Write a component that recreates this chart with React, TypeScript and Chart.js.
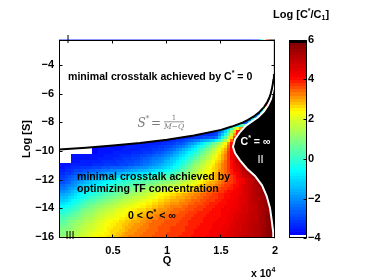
import React, { useEffect, useRef } from 'react';
import { Chart, registerables } from 'chart.js';

Chart.register(...registerables);

// ---------- data ----------
// Q in units of 10^4; Log[S] natural log
const qCenters = [0.05, 0.15, 0.25, 0.35, 0.45, 0.55, 0.65, 0.75, 0.85, 0.95, 1.05, 1.15, 1.25, 1.35, 1.45, 1.55, 1.65, 1.75, 1.85, 1.95];
const logSRows = [-16, -15.5, -15, -14.5, -14, -13.5, -13, -12.5, -12, -11.5, -11, -10.5, -10, -9.5, -9, -8.5, -8, -7.5];

// Log[C*/C1] per row (null = white, C* = 0)
const rowS16 = [1.1, 1.5, 2.0, 2.35, 2.6, 2.9, 3.2, 3.35, 3.5, 3.6, 3.75, 3.85, 4.0, 4.1, 4.25, 4.45, 4.7, 4.95, 5.2, 5.75];
const rowS15h = [0.85, 1.3, 1.75, 2.1, 2.45, 2.7, 3.0, 3.25, 3.4, 3.55, 3.7, 3.8, 3.95, 4.05, 4.2, 4.4, 4.65, 4.9, 5.2, 5.75];
const rowS15 = [0.6, 1.1, 1.5, 1.9, 2.3, 2.55, 2.85, 3.1, 3.35, 3.5, 3.6, 3.75, 3.9, 4.0, 4.15, 4.3, 4.6, 4.85, 5.15, 5.75];
const rowS14h = [0.05, 0.6, 1.1, 1.55, 1.95, 2.25, 2.55, 2.8, 3.1, 3.3, 3.45, 3.6, 3.8, 3.95, 4.05, 4.25, 4.5, 4.8, 5.1, 5.7];
const rowS14 = [-0.45, 0.1, 0.7, 1.2, 1.55, 1.95, 2.3, 2.55, 2.8, 3.05, 3.3, 3.45, 3.65, 3.85, 4.0, 4.2, 4.4, 4.75, 5.1, 5.6];
const rowS13h = [-1.15, -0.5, 0.1, 0.55, 0.95, 1.35, 1.7, 2.05, 2.35, 2.7, 2.95, 3.15, 3.4, 3.65, 3.85, 4.1, 4.35, 4.75, 5.2, 5.8];
const rowS13 = [-1.85, -1.1, -0.5, -0.1, 0.3, 0.7, 1.1, 1.5, 1.9, 2.3, 2.6, 2.85, 3.15, 3.45, 3.7, 4.0, 4.25, 4.75, 5.25, 5.8];
const rowS12h = [-2.45, -1.75, -1.1, -0.7, -0.3, 0.15, 0.45, 0.8, 1.1, 1.45, 1.75, 2.1, 2.5, 2.95, 3.3, 3.75, 4.1, 4.75, 5.4, 6];
const rowS12 = [-3.0, -2.35, -1.75, -1.3, -0.85, -0.45, -0.2, 0.05, 0.35, 0.6, 0.85, 1.3, 1.9, 2.45, 2.95, 3.45, 4.0, 4.7, 5.5, 6];
const rowS11h = [-3.35, -2.9, -2.6, -2.3, -2.0, -1.75, -1.5, -1.25, -0.9, -0.5, -0.05, 0.6, 1.45, 2.15, 2.85, 3.5, 4.3, 5.25, 6, 6];
const rowS11 = [-3.65, -3.5, -3.4, -3.3, -3.15, -3.05, -2.85, -2.55, -2.15, -1.65, -0.95, -0.05, 1.0, 1.85, 2.7, 3.55, 4.6, 5.8, 6, 6];
const rowS10h = [null, -3.6, -3.6, -3.55, -3.45, -3.3, -3.15, -2.9, -2.55, -2.1, -1.45, -0.7, 0.3, 1.3, 2.3, 3.4, 5.0, 6, 6, 6];
const rowS10 = [null, null, null, -3.7, -3.6, -3.55, -3.45, -3.35, -3.2, -2.9, -2.3, -1.4, -0.5, 0.7, 1.9, 3.2, 5.5, 6, 6, 6];
const rowS9h = [null, null, null, -3.6, -3.6, -3.6, -3.55, -3.5, -3.45, -3.35, -3.1, -2.6, -1.6, -0.4, 1.0, 2.6, 6, 6, 6, 6];
const rowS9 = [-3.6, -3.6, -3.6, -3.6, -3.6, -3.6, -3.6, -3.6, -3.6, -3.6, -3.6, -3.55, -3.4, -3.2, -3.0, 0.5, 4.5, 6, 6, 6];
const rowS8h = [-3.6, -3.6, -3.6, -3.6, -3.6, -3.6, -3.6, -3.6, -3.6, -3.6, -3.6, -3.6, -3.6, -3.6, -3.55, -1.5, 3.5, 6, 6, 6];
const rowS8 = [-3.6, -3.6, -3.6, -3.6, -3.6, -3.6, -3.6, -3.6, -3.6, -3.6, -3.6, -3.6, -3.6, -3.6, -3.6, -3.6, -3.5, -2.5, 6, 6];
const rowS7h = [-3.6, -3.6, -3.6, -3.6, -3.6, -3.6, -3.6, -3.6, -3.6, -3.6, -3.6, -3.6, -3.6, -3.6, -3.6, -3.6, -3.6, -3.6, -3.2, 6];
const cRows = [rowS16, rowS15h, rowS15, rowS14h, rowS14, rowS13h, rowS13, rowS12h, rowS12, rowS11h, rowS11, rowS10h, rowS10, rowS9h, rowS9, rowS8h, rowS8, rowS7h];

// S* = 1/(M-Q) boundary (black line)
const sStarQ = [0, 0.25, 0.5, 0.75, 1.0, 1.25, 1.5, 1.6, 1.7, 1.75, 1.8, 1.85, 1.9, 1.93, 1.95, 1.96, 1.97, 1.98, 1.985, 1.99];
const sStarL = [-9.9, -9.77, -9.62, -9.44, -9.21, -8.92, -8.52, -8.29, -8.01, -7.82, -7.6, -7.31, -6.91, -6.55, -6.21, -5.99, -5.7, -5.3, -5.01, -4.61];

// region II boundary (white line), bottom to top
const bQ = [1.99, 1.984, 1.969, 1.954, 1.923, 1.88, 1.815, 1.741, 1.676, 1.63, 1.611, 1.63, 1.676, 1.731, 1.787, 1.843, 1.898, 1.935, 1.963, 1.98, 1.99];
const bL = [-16.12, -15.71, -14.83, -14.0, -13.15, -12.4, -11.75, -11.24, -10.66, -10.15, -9.7, -9.18, -8.67, -8.22, -7.93, -7.64, -7.22, -6.8, -6.35, -5.7, -5.0];
const edgeQ = [2, 2];
const edgeL = [-4.75, -16.12];

const xTicks = [0.5, 1, 1.5, 2];
const yTicks = [-16, -14, -12, -10, -8, -6, -4];
const cTicks = [-4, -2, 0, 2, 4, 6];

// ---------- styling ----------
const FAMILY = '"Liberation Sans", Arial, Helvetica, sans-serif';
const stops: number[][] = [
  [-3.84, 0, 0, 255],
  [-0.6, 0, 255, 255],
  [0.9, 128, 255, 128],
  [2.4, 255, 255, 0],
  [4.1, 255, 0, 0],
  [5.84, 128, 0, 0],
];

function colorFor(v: number): string {
  const lo = -4, hi = 6, n = 64;
  let k = Math.floor(((v - lo) / (hi - lo)) * n);
  k = Math.max(0, Math.min(n - 1, k));
  if (k === 0) return '#ffffff';
  if (k === n - 1) return '#000000';
  const c = lo + ((k + 0.5) * (hi - lo)) / n;
  for (let i = 0; i < stops.length - 1; i++) {
    const a = stops[i], b = stops[i + 1];
    if (c <= b[0] || i === stops.length - 2) {
      let t = (c - a[0]) / (b[0] - a[0]);
      t = Math.max(0, Math.min(1, t));
      const r = Math.round(a[1] + (b[1] - a[1]) * t);
      const g = Math.round(a[2] + (b[2] - a[2]) * t);
      const bl = Math.round(a[3] + (b[3] - a[3]) * t);
      return `rgb(${r},${g},${bl})`;
    }
  }
  return '#000';
}

type Part = { t: string; font: string; dy?: number };
function rich(ctx: CanvasRenderingContext2D, parts: Part[], x: number, y: number) {
  let cx = x;
  for (const p of parts) {
    ctx.font = p.font;
    ctx.fillText(p.t, cx, y + (p.dy || 0));
    cx += ctx.measureText(p.t).width;
  }
}

const fmt = (v: number) => (v < 0 ? '\u2212' + Math.abs(v) : String(v));

// value of the measured field at (q, L): shaded between the read cell centres
function fieldAt(q: number, L: number): number | null {
  const nQ = qCenters.length, nL = logSRows.length;
  let fq = (q - qCenters[0]) / (qCenters[1] - qCenters[0]);
  let fl = (L - logSRows[0]) / (logSRows[1] - logSRows[0]);
  fq = Math.max(0, Math.min(nQ - 1, fq));
  fl = Math.max(0, Math.min(nL - 1, fl));
  const q0 = Math.floor(fq), l0 = Math.floor(fl);
  const q1 = Math.min(nQ - 1, q0 + 1), l1 = Math.min(nL - 1, l0 + 1);
  const tq = fq - q0, tl = fl - l0;
  const v00 = cRows[l0][q0], v01 = cRows[l0][q1], v10 = cRows[l1][q0], v11 = cRows[l1][q1];
  if (v00 == null || v01 == null || v10 == null || v11 == null) {
    return cRows[tl < 0.5 ? l0 : l1][tq < 0.5 ? q0 : q1];
  }
  const a = v00 + (v01 - v00) * tq;
  const b = v10 + (v11 - v10) * tq;
  return a + (b - a) * tl;
}

const heatPlugin = {
  id: 'heat',
  beforeDatasetsDraw(chart: any) {
    const { ctx, chartArea: a } = chart;
    const x = chart.scales.x, y = chart.scales.y;
    ctx.save();
    ctx.beginPath();
    ctx.rect(a.left, a.top, a.right - a.left, a.bottom - a.top);
    ctx.clip();
    const sub = 3;
    for (let py = Math.round(a.bottom) - sub; py > a.top - sub; py -= sub) {
      const L = y.getValueForPixel(py + sub / 2);
      for (let px = Math.round(a.left); px < a.right; px += sub) {
        const q = x.getValueForPixel(px + sub / 2);
        const v = fieldAt(q, L);
        if (v == null) continue;
        ctx.fillStyle = colorFor(v);
        ctx.fillRect(px, py, sub, sub);
      }
    }
    // region II (C* = infinity)
    ctx.beginPath();
    bQ.forEach((q, i) => {
      const px = x.getPixelForValue(q), py = y.getPixelForValue(bL[i]);
      if (i === 0) ctx.moveTo(px, py); else ctx.lineTo(px, py);
    });
    edgeQ.forEach((q, i) => ctx.lineTo(x.getPixelForValue(q), y.getPixelForValue(edgeL[i])));
    ctx.closePath();
    ctx.fillStyle = '#000';
    ctx.fill();
    ctx.restore();
  },
  afterDatasetsDraw(chart: any) {
    const { ctx, chartArea: a } = chart;
    const x = chart.scales.x, y = chart.scales.y;
    ctx.save();
    ctx.strokeStyle = '#000';
    ctx.lineWidth = 1;
    const L = Math.round(a.left) + 0.5, R = Math.round(a.right) - 0.5;
    const T = Math.round(a.top) + 0.5, B = Math.round(a.bottom) - 0.5;
    ctx.strokeRect(L, T, R - L, B - T);
    ctx.beginPath();
    xTicks.forEach((v) => {
      const px = Math.round(x.getPixelForValue(v)) - 0.5;
      ctx.moveTo(px, B); ctx.lineTo(px, B - 3);
      ctx.moveTo(px, T); ctx.lineTo(px, T + 3);
    });
    yTicks.forEach((v) => {
      const py = Math.round(y.getPixelForValue(v)) + 0.5;
      ctx.moveTo(L, py); ctx.lineTo(L + 3, py);
      ctx.moveTo(R, py); ctx.lineTo(R - 3, py);
    });
    ctx.stroke();
    ctx.restore();
  },
  afterDraw(chart: any) {
    const { ctx, chartArea: a } = chart;
    const yc = chart.scales.yc;
    ctx.save();
    // colorbar
    const cbL = Math.round(a.right) + 14, cbW = 18;
    const n = 64;
    for (let k = 0; k < n; k++) {
      const v0 = -4 + (k * 10) / n, v1 = -4 + ((k + 1) * 10) / n;
      const py0 = Math.round(yc.getPixelForValue(v1));
      const py1 = Math.round(yc.getPixelForValue(v0));
      ctx.fillStyle = colorFor((v0 + v1) / 2);
      ctx.fillRect(cbL, py0, cbW, py1 - py0);
    }
    ctx.strokeStyle = '#000';
    ctx.lineWidth = 1;
    const cT = Math.round(a.top) + 0.5, cB = Math.round(a.bottom) - 0.5;
    ctx.strokeRect(cbL + 0.5, cT, cbW - 1, cB - cT);
    ctx.beginPath();
    cTicks.forEach((v) => {
      const py = Math.round(yc.getPixelForValue(v)) + 0.5;
      ctx.moveTo(cbL + cbW - 0.5, py); ctx.lineTo(cbL + cbW - 3.5, py);
    });
    ctx.stroke();

    ctx.textBaseline = 'middle';
    ctx.textAlign = 'left';
    const B = 'bold 10.6px ' + FAMILY;
    const Bs = 'bold 7px ' + FAMILY;
    const Rg = '11px ' + FAMILY;
    ctx.fillStyle = '#000';
    rich(ctx, [{ t: 'Log [C', font: 'bold 11px ' + FAMILY }, { t: '*', font: Bs, dy: -4 }, { t: '/C', font: 'bold 11px ' + FAMILY }, { t: '1', font: Bs, dy: 3 }, { t: ']', font: 'bold 11px ' + FAMILY }], 273, 15);
    rich(ctx, [{ t: 'x 10', font: 'bold 10.5px ' + FAMILY }, { t: '4', font: Bs, dy: -4 }], 251, 274);

    rich(ctx, [{ t: 'minimal crosstalk achieved by C', font: B }, { t: '*', font: Bs, dy: -4 }, { t: ' = 0', font: B }], 68, 77.5);
    rich(ctx, [{ t: 'minimal crosstalk achieved by', font: B }], 77, 177);
    rich(ctx, [{ t: 'optimizing TF concentration', font: B }], 77, 189.5);
    rich(ctx, [{ t: '0 < C', font: B }, { t: '*', font: Bs, dy: -4 }, { t: ' < \u221E', font: B }], 128, 216.5);
    rich(ctx, [{ t: 'I', font: Rg }], 66.5, 40);
    rich(ctx, [{ t: 'III', font: Rg }], 65.5, 235.5);
    ctx.fillStyle = '#fff';
    rich(ctx, [{ t: 'C', font: B }, { t: '*', font: Bs, dy: -4 }, { t: ' = \u221E', font: B }], 240.5, 142);
    rich(ctx, [{ t: 'II', font: Rg }], 257.5, 159.5);

    // S* = 1/(M-Q)
    ctx.fillStyle = '#7a7a7a';
    ctx.strokeStyle = '#7a7a7a';
    ctx.textBaseline = 'alphabetic';
    ctx.font = 'italic 12px "DejaVu Serif", "Liberation Serif", serif';
    ctx.fillText('S', 137.5, 127);
    ctx.font = '8px "DejaVu Serif", "Liberation Serif", serif';
    ctx.fillText('*', 145.5, 121);
    ctx.font = '12px "DejaVu Serif", "Liberation Serif", serif';
    ctx.fillText('=', 151, 127);
    ctx.textAlign = 'center';
    ctx.font = '7px "DejaVu Serif", "Liberation Serif", serif';
    ctx.fillText('1', 174, 119.5);
    ctx.font = 'italic 7.5px "DejaVu Serif", "Liberation Serif", serif';
    ctx.fillText('M\u2212Q', 174, 129);
    ctx.lineWidth = 0.8;
    ctx.beginPath();
    ctx.moveTo(164, 121.8); ctx.lineTo(184, 121.8);
    ctx.stroke();
    ctx.restore();
  },
};

export default function App() {
  const ref = useRef<HTMLCanvasElement | null>(null);
  useEffect(() => {
    if (!ref.current) return;
    const tickFont = { family: FAMILY, size: 11, weight: 'bold' as const };
    const chart = new Chart(ref.current, {
      type: 'line',
      data: {
        datasets: [
          {
            data: sStarQ.map((q, i) => ({ x: q, y: sStarL[i] })),
            borderColor: '#000',
            borderWidth: 2,
            pointRadius: 0,
            fill: 'end',
            backgroundColor: '#fff',
            tension: 0,
          },
          {
            data: bQ.map((q, i) => ({ x: q, y: bL[i] })),
            borderColor: '#fff',
            borderWidth: 2,
            pointRadius: 0,
            fill: false,
            tension: 0,
          },
        ],
      },
      options: {
        animation: false,
        responsive: false,
        devicePixelRatio: 1,
        events: [],
        layout: { padding: { top: 27, left: 0, right: 0, bottom: 0 } },
        plugins: { legend: { display: false }, tooltip: { enabled: false } },
        scales: {
          x: {
            type: 'linear',
            min: 0,
            max: 2,
            afterBuildTicks: (s: any) => { s.ticks = xTicks.map((v) => ({ value: v })); },
            afterFit: (s: any) => { s.height = 34; },
            grid: { display: false, drawTicks: false },
            border: { display: false },
            ticks: { font: tickFont, color: '#000', padding: 6, maxRotation: 0, autoSkip: false, callback: (v: any) => fmt(Number(v)) },
            title: { display: true, text: 'Q', font: tickFont, color: '#000', padding: { top: 0, bottom: 5 } },
          },
          y: {
            type: 'linear',
            position: 'left',
            min: -16.12,
            max: -2.2,
            afterBuildTicks: (s: any) => { s.ticks = yTicks.map((v) => ({ value: v })); },
            afterFit: (s: any) => { s.width = 59; },
            grid: { display: false, drawTicks: false },
            border: { display: false },
            ticks: { font: tickFont, color: '#000', padding: 5, autoSkip: false, callback: (v: any) => fmt(Number(v)) },
            title: { display: true, text: 'Log [S]', font: tickFont, color: '#000', padding: { top: 20, bottom: 0 } },
          },
          yc: {
            type: 'linear',
            position: 'right',
            min: -4,
            max: 6,
            afterBuildTicks: (s: any) => { s.ticks = cTicks.map((v) => ({ value: v })); },
            afterFit: (s: any) => { s.width = 99; },
            grid: { display: false, drawTicks: false },
            border: { display: false },
            ticks: { font: tickFont, color: '#000', padding: 33, autoSkip: false, callback: (v: any) => fmt(Number(v)) },
          },
        },
      },
      plugins: [heatPlugin],
    } as any);
    return () => chart.destroy();
  }, []);
  return (
    <div style={{ position: 'fixed', left: 0, top: 0, width: 374, height: 278, background: '#fff' }}>
      <canvas ref={ref} width={374} height={278} style={{ display: 'block', width: 374, height: 278 }} />
    </div>
  );
}
